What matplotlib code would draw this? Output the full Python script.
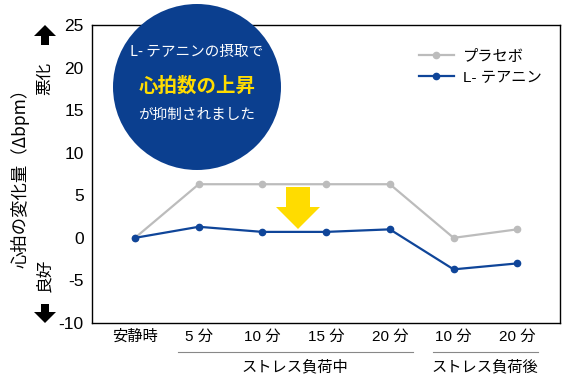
import matplotlib.pyplot as plt
import numpy as np
from matplotlib.patches import Ellipse, Polygon
from matplotlib.lines import Line2D

plt.rcParams['font.family'] = ['Liberation Sans', 'Noto Sans CJK JP', 'DejaVu Sans']

labels = ['安静時', '5 分', '10 分', '15 分', '20 分', '10 分', '20 分']
placebo = [0, 6.3, 6.3, 6.3, 6.3, 0, 1.0]
theanine = [0, 1.3, 0.7, 0.7, 1.0, -3.7, -3.0]
series_names = ['プラセボ', 'L- テアニン']
groups = ['ストレス負荷中', 'ストレス負荷後']
yticks = [-10, -5, 0, 5, 10, 15, 20, 25]

W, H = 575, 382
gray = '#bcbcbc'
blue = '#0f4599'
navy = '#0b3f8f'
yellow = '#ffdc00'
jp = ['Noto Sans CJK JP', 'DejaVu Sans']

fig = plt.figure(figsize=(W / 100, H / 100), dpi=100)
ax = fig.add_axes([92 / W, 1 - 323 / H, (560 - 92) / W, (323 - 25) / H])


def fx(px):
    return px / W


def fy(py):
    return 1 - py / H


x = np.arange(len(labels))
ax.plot(x, placebo, color=gray, lw=1.6, marker='o', ms=4.5, label=series_names[0])
ax.plot(x, theanine, color=blue, lw=1.6, marker='o', ms=4.5, label=series_names[1])

ax.set_xlim(-0.675, 6.67)
ax.set_ylim(-10, 25)
ax.set_yticks(yticks)
ax.set_yticklabels([str(v) for v in yticks], fontsize=12.5)
ax.set_xticks(x)
ax.set_xticklabels(labels, fontsize=11)
ax.tick_params(length=0, pad=6)
ax.tick_params(axis='x', pad=5)
for s in ax.spines.values():
    s.set_linewidth(1.0)

leg = ax.legend(loc='upper left', bbox_to_anchor=(fx(405), fy(36)), bbox_transform=fig.transFigure,
                frameon=False, fontsize=11, handlelength=2.3, labelspacing=0.45, handletextpad=0.6)

# group lines and labels under the x axis
for (a, b, tx), g in zip([(178, 413, 295), (433, 538, 485)], groups):
    fig.add_artist(Line2D([fx(a), fx(b)], [fy(352), fy(352)], color='#888888', lw=0.8))
    fig.text(fx(tx), fy(367), g, ha='center', va='center', fontsize=11, family=jp)

# y axis label and direction hints
fig.text(fx(20), fy(174), '心拍の変化量（Δbpm）', rotation=90, ha='center', va='center', fontsize=12.5, family=jp)
fig.text(fx(45), fy(78), '悪化', rotation=90, ha='center', va='center', fontsize=12, family=jp)
fig.text(fx(45), fy(275), '良好', rotation=90, ha='center', va='center', fontsize=12, family=jp)


def arrow(cx, tip, base, shaft_w, head_w, head_len, color):
    d = 1 if base > tip else -1
    neck = tip + d * head_len
    pts = [(cx, tip), (cx + head_w / 2, neck), (cx + shaft_w / 2, neck), (cx + shaft_w / 2, base),
           (cx - shaft_w / 2, base), (cx - shaft_w / 2, neck), (cx - head_w / 2, neck)]
    fig.add_artist(Polygon([(fx(px), fy(py)) for px, py in pts], closed=True,
                           facecolor=color, edgecolor='none', zorder=5))


arrow(45, 25, 45, 8, 22, 11, 'black')
arrow(45, 323, 304, 8, 22, 11, 'black')
arrow(298, 229, 187, 24, 44, 22, yellow)

# callout circle
fig.add_artist(Ellipse((fx(197), fy(87)), 168 / W, 166 / H, facecolor=navy, edgecolor='none', zorder=6))
fig.text(fx(197), fy(52), 'L- テアニンの摂取で', color='white', ha='center', va='center', fontsize=10.5,
         family=jp, zorder=7)
fig.text(fx(197), fy(86), '心拍数の上昇', color=yellow, ha='center', va='center', fontsize=14,
         fontweight='bold', family=jp, zorder=7)
fig.text(fx(197), fy(115), 'が抑制されました', color='white', ha='center', va='center', fontsize=10.5,
         family=jp, zorder=7)

fig.savefig('out.png', dpi=100)
